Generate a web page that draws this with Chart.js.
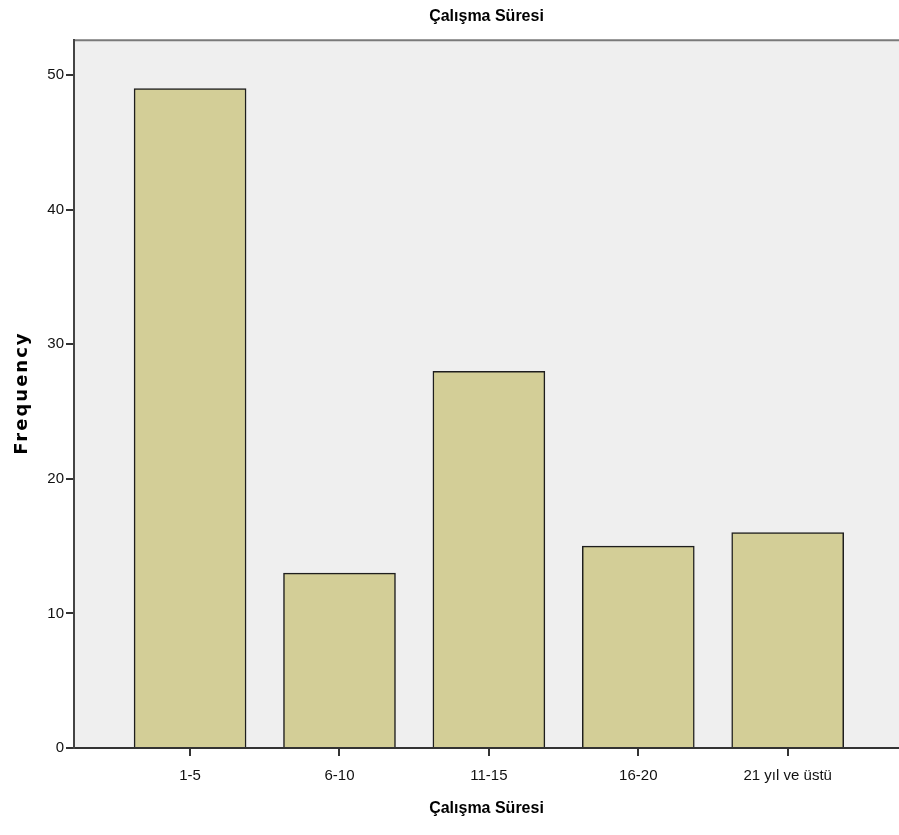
<!DOCTYPE html>
<html>
<head>
<meta charset="utf-8">
<script src="https://cdn.jsdelivr.net/npm/chart.js@4.4.1/dist/chart.umd.min.js"></script>
<style>
  html, body { margin: 0; padding: 0; background: #fff; }
  #wrap { width: 899px; height: 835px; }
</style>
</head>
<body>
<div id="wrap"><canvas id="chart_calismaSuresi"></canvas></div>
<script>
var categoryLabels = ['1-5', '6-10', '11-15', '16-20', '21 yıl ve üstü'];
var frequencyValues = [49, 13, 28, 15, 16];
var yTickValues = [0, 10, 20, 30, 40, 50];

var tickFont = { family: "'Liberation Sans', Arial, sans-serif", size: 15 };
var titleFont = { family: "'Liberation Sans', Arial, sans-serif", size: 16, weight: 'bold' };

var chart_calismaSuresi = new Chart(document.getElementById('chart_calismaSuresi'), {
    type: 'bar',
    data: {
        datasets: [
            {
                label: 'Frequency',
                data: frequencyValues.map(function(v, i) { return { x: i, y: v }; }),
                backgroundColor: '#d3ce97',
                borderColor: '#1e1e1e',
                borderWidth: 1.5,
                barThickness: 112
            }
        ]
    },
    options: {
        animation: false,
        responsive: true,
        maintainAspectRatio: false,
        layout: { padding: 0 },
        plugins: {
            legend: { display: false },
            tooltip: { enabled: false },
            title: {
                display: true,
                text: 'Çalışma Süresi',
                fullSize: false,
                color: '#000',
                font: titleFont,
                padding: { top: 7, bottom: 14 }
            }
        },
        scales: {
            x: {
                type: 'linear',
                offset: false,
                min: -0.777,
                max: 4.745,
                afterBuildTicks: function(scale) {
                    scale.ticks = categoryLabels.map(function(l, i) { return { value: i }; });
                },
                afterFit: function(scale) { scale.height = 87; },
                ticks: {
                    color: '#111',
                    font: tickFont,
                    padding: 11,
                    autoSkip: false,
                    maxRotation: 0,
                    callback: function(value) { return categoryLabels[value]; }
                },
                grid: {
                    display: true,
                    offset: false,
                    drawOnChartArea: false,
                    drawTicks: true,
                    tickLength: 8,
                    color: '#333',
                    lineWidth: 2
                },
                border: { display: true, color: '#333', width: 2 },
                title: {
                    display: true,
                    text: 'Çalışma Süresi',
                    color: '#000',
                    font: titleFont,
                    padding: { top: 17, bottom: 17 }
                }
            },
            y: {
                type: 'linear',
                min: 0,
                max: 52.6,
                afterBuildTicks: function(scale) {
                    scale.ticks = yTickValues.map(function(v) { return { value: v }; });
                },
                afterFit: function(scale) { scale.width = 74; },
                ticks: {
                    color: '#111',
                    font: tickFont,
                    padding: 2
                },
                grid: {
                    display: true,
                    drawOnChartArea: false,
                    drawTicks: true,
                    tickLength: 8,
                    color: '#333',
                    lineWidth: 2
                },
                border: { display: true, color: '#444', width: 2 },
                title: { display: false }
            }
        }
    },
    plugins: [{
        id: 'plotBackground',
        beforeDraw: (chart) => {
            const ctx = chart.ctx;
            const a = chart.chartArea;
            ctx.save();
            ctx.fillStyle = '#fff';
            ctx.fillRect(0, 0, chart.width, chart.height);
            ctx.fillStyle = '#efefef';
            ctx.fillRect(a.left, a.top, a.right - a.left, a.bottom - a.top);
            ctx.strokeStyle = '#7a7a7a';
            ctx.lineWidth = 2;
            ctx.beginPath();
            ctx.moveTo(a.left, a.top);
            ctx.lineTo(a.right, a.top);
            ctx.stroke();
            ctx.restore();
        }
    }, {
        // y axis title drawn here so it can be letter-spaced like the original
        id: 'yTitle',
        afterDraw: (chart) => {
            const ctx = chart.ctx;
            const a = chart.chartArea;
            ctx.save();
            ctx.translate(22, (a.top + a.bottom) / 2);
            ctx.rotate(-Math.PI / 2);
            ctx.font = "bold 18px 'DejaVu Sans', Verdana, sans-serif";
            ctx.letterSpacing = '2px';
            ctx.fillStyle = '#000';
            ctx.textAlign = 'center';
            ctx.textBaseline = 'middle';
            ctx.fillText('Frequency', 1, 0);
            ctx.restore();
        }
    }]
});
</script>
</body>
</html>
